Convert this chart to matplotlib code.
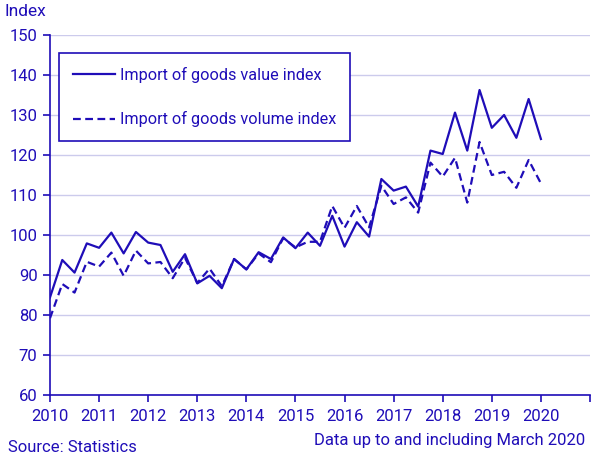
import matplotlib
matplotlib.use("Agg")
import matplotlib.pyplot as plt
import numpy as np

# quarterly index values, 2010 Q1 .. 2020 Q1
value_index = [84.4, 93.75, 90.6, 97.9, 96.8, 100.6, 95.4, 100.75, 98.1, 97.5,
               90.8, 95.2, 87.9, 89.8, 86.7, 94.0, 91.4, 95.7, 94.0, 99.4,
               96.7, 100.6, 97.3, 104.8, 97.1, 103.2, 99.6, 114.0, 111.1, 112.1,
               107.1, 121.1, 120.25, 130.6, 121.1, 136.25, 126.8, 130.0, 124.3, 134.0,
               124.0]
volume_index = [79.2, 87.75, 85.6, 93.3, 92.1, 95.6, 89.8, 96.1, 92.9, 93.25,
                89.2, 94.3, 88.0, 91.6, 87.2, 94.0, 91.4, 95.4, 93.2, 99.2,
                96.9, 98.3, 98.3, 107.25, 101.8, 107.25, 101.9, 112.3, 107.75, 109.4,
                105.6, 118.1, 114.6, 119.3, 108.1, 123.25, 115.0, 115.8, 111.8, 118.75,
                112.9]
years = list(range(2010, 2021))
labels = ["Import of goods value index", "Import of goods volume index"]

quarters = 2010 + np.arange(len(value_index)) / 4

blue = "#1f0db8"
grid = "#cccbec"

plt.rcParams['font.family'] = ['Roboto', 'DejaVu Sans']

fig = plt.figure(figsize=(6.05, 4.58), dpi=100)
ax = fig.add_axes([50 / 605, 1 - 395 / 458, 540 / 605, 360 / 458])

ax.plot(quarters, value_index, color=blue, lw=1.6, label=labels[0])
ax.plot(quarters, volume_index, color=blue, lw=1.6, ls=(0, (3.5, 2)), label=labels[1])

ax.set_xlim(2010, 2021)
ax.set_ylim(60, 150)
ax.set_yticks(range(60, 151, 10))
ax.set_xticks(range(2010, 2022))
ax.set_xticklabels([str(y) for y in years] + [""])

ax.grid(axis='y', color=grid, lw=1)
ax.set_axisbelow(True)
for s in ['top', 'right']:
    ax.spines[s].set_visible(False)
for s in ['left', 'bottom']:
    ax.spines[s].set_color(blue)
    ax.spines[s].set_linewidth(1.2)
ax.tick_params(colors=blue, labelcolor=blue, labelsize=12, length=5, width=1.2)
ax.tick_params(axis='x', pad=5)
ax.tick_params(axis='y', pad=4)

leg = ax.legend(loc='upper left', bbox_to_anchor=(0.017, 0.95), fontsize=11.7,
                frameon=True, fancybox=False, edgecolor=blue, framealpha=1,
                handlelength=2.6, handletextpad=0.3, labelspacing=1.75,
                borderpad=0.85, borderaxespad=0)
leg.get_frame().set_linewidth(1.2)
for t in leg.get_texts():
    t.set_color(blue)

fig.text(5 / 605, 1 - 12 / 458, "Index", color=blue, fontsize=12.5, va='center', ha='left')
fig.text(8 / 605, 1 - 447 / 458, "Source: Statistics", color=blue, fontsize=12, va='center', ha='left')
fig.text(585 / 605, 1 - 440 / 458, "Data up to and including March 2020", color=blue,
         fontsize=12, va='center', ha='right')

fig.savefig("out.png", dpi=100)
